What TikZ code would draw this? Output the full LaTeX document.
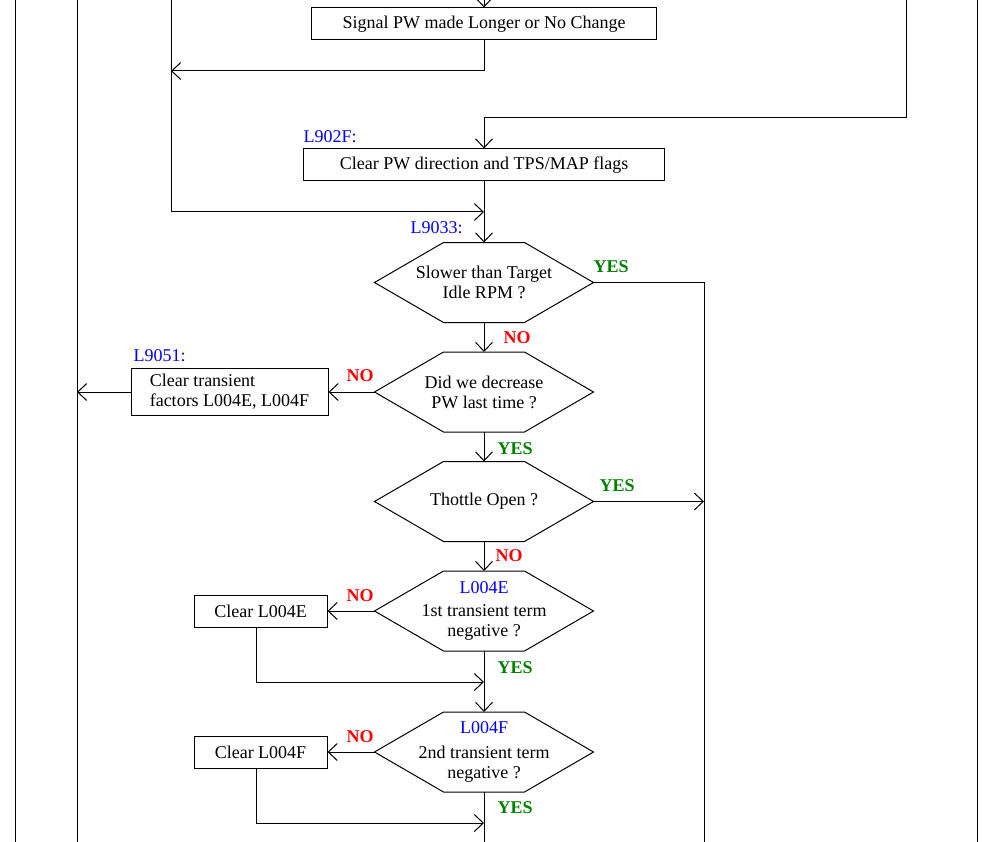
\documentclass[tikz,border=0pt]{standalone}
\usepackage{fontspec}
\setmainfont{Liberation Serif}
\usetikzlibrary{arrows.meta,calc}
\definecolor{lblue}{RGB}{0,0,255}
\definecolor{lred}{RGB}{255,0,0}
\definecolor{lgreen}{RGB}{0,128,0}
\newcommand{\hexoutline}[1]{\draw (#1.west) -- ([xshift=69pt]#1.north west) -- ([xshift=-69pt]#1.north east) -- (#1.east) -- ([xshift=-69pt]#1.south east) -- ([xshift=69pt]#1.south west) -- cycle;}
\begin{document}
\begin{tikzpicture}[x=1pt,y=-1pt,line width=1pt,
  font=\fontsize{18}{20}\selectfont,
  arr/.style={-{Straight Barb[length=9pt,width=17pt]}},
  box/.style={draw,inner sep=0pt,minimum height=32pt,align=center},
  hexnode/.style={inner sep=0pt,minimum width=218pt,minimum height=79pt,align=center},
  lab/.style={text=lblue,inner sep=0pt},
  yes/.style={text=lgreen,font=\fontsize{18}{20}\selectfont\bfseries,inner sep=0pt,anchor=west},
  no/.style={text=lred,font=\fontsize{18}{20}\selectfont\bfseries,inner sep=0pt,anchor=west}]
\useasboundingbox (0,0) rectangle (1000,842);
% frame lines
\coordinate (f1t) at (15,0);  \coordinate (f1b) at (15,842);
\coordinate (f2t) at (77,0);  \coordinate (f2b) at (77,842);
\coordinate (f3t) at (977,0); \coordinate (f3b) at (977,842);
\draw (f1t) -- (f1b);
\draw (f2t) -- (f2b);
\draw (f3t) -- (f3b);
% nodes
\coordinate (tA) at (484,0);
\coordinate (tB) at (171,0);
\coordinate (jB) at (171,71);
\coordinate (tC) at (906,0);
\coordinate (jC) at (484,118);
\coordinate (jD) at (484,212);
\coordinate (rB) at (704,842);
\coordinate (xL) at (77,0);
\coordinate (jE) at (484,682);
\coordinate (jF) at (484,823);
\coordinate (bot) at (484,842);
\node[box,minimum width=345pt] (b1) at (484,24) {Signal PW made Longer or No Change};
\node[box,minimum width=361pt] (b2) at (484,165) {Clear PW direction and TPS/MAP flags};
\node[hexnode] (d1) at (484,282.5) {Slower than Target\\Idle RPM ?};
\node[hexnode] (d2) at (484,392) {Did we decrease\\PW last time ?};
\node[box,minimum width=197pt,minimum height=47pt,align=left] (b3) at (229.5,392) {Clear transient\\factors L004E, L004F};
\node[hexnode] (d3) at (484,501.5) {Thottle Open ?};
\node[hexnode] (d4) at (484,611) {\textcolor{lblue}{L004E}\\[3pt]1st transient term\\negative ?};
\node[box,minimum width=133pt] (b4) at (260.5,611) {Clear L004E};
\node[hexnode] (d5) at (484,752) {\textcolor{lblue}{L004F}\\[5pt]2nd transient term\\negative ?};
\node[box,minimum width=133pt] (b5) at (260.5,752) {Clear L004F};
\hexoutline{d1}
\hexoutline{d2}
\hexoutline{d3}
\hexoutline{d4}
\hexoutline{d5}
% labels
\node[lab,anchor=west] (l1) at (303,137) {L902F:};
\node[lab,anchor=east] (l2) at (463,228) {L9033:};
\node[lab,anchor=west] (l3) at (133,356) {L9051:};
\node[yes] (y1) at (593,267) {YES};
\node[no]  (n1) at (503,338) {NO};
\node[no]  (n2) at (346,376) {NO};
\node[yes] (y2) at (497,449) {YES};
\node[yes] (y3) at (599,486) {YES};
\node[no]  (n3) at (495,556) {NO};
\node[no]  (n4) at (346,596) {NO};
\node[yes] (y4) at (497,668) {YES};
\node[no]  (n5) at (346,737) {NO};
\node[yes] (y5) at (497,808) {YES};
% connectors
\draw[arr] (tA) -- (b1.north);
\draw[arr] (b1.south) |- (jB);
\draw[arr] (tB) |- (jD);
\draw[arr] (tC) |- (jC) -- (b2.north);
\draw[arr] (b2.south) -- (d1.north);
\draw (d1.east) -| (rB);
\draw[arr] (d1.south) -- (d2.north);
\draw[arr] (d2.west) -- (b3.east);
\draw[arr] (b3.west) -- (b3.west -| xL);
\draw[arr] (d2.south) -- (d3.north);
\draw[arr] (d3.east) -- (d3.east -| rB);
\draw[arr] (d3.south) -- (d4.north);
\draw[arr] (d4.west) -- (b4.east);
\draw[arr] ([xshift=-4pt]b4.south) |- (jE);
\draw[arr] (d4.south) -- (d5.north);
\draw[arr] (d5.west) -- (b5.east);
\draw[arr] ([xshift=-4pt]b5.south) |- (jF);
\draw (d5.south) -- (bot);
\end{tikzpicture}
\end{document}
